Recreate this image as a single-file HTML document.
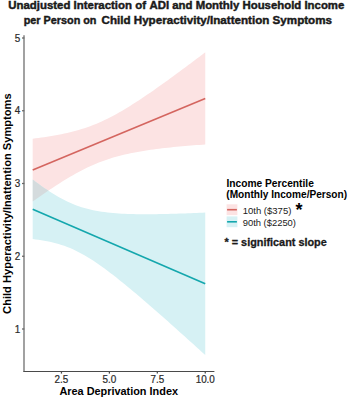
<!DOCTYPE html>
<html><head><meta charset="utf-8"><style>
html,body{margin:0;padding:0;background:#fff;width:350px;height:399px;overflow:hidden}
svg{display:block}
text{font-family:"Liberation Sans",sans-serif}
</style></head><body>
<svg width="350" height="399" viewBox="0 0 350 399">
<rect width="350" height="399" fill="#fff"/>
<text x="8.2" y="9.4" font-size="10.3" font-weight="bold" fill="#1a1a1a" stroke="#1a1a1a" stroke-width="0.4" lengthAdjust="spacingAndGlyphs" textLength="137.8">Unadjusted Interaction of</text>
<text x="149.5" y="9.4" font-size="10.3" font-weight="bold" fill="#1a1a1a" stroke="#1a1a1a" stroke-width="0.4" lengthAdjust="spacingAndGlyphs" textLength="194.8">ADI and Monthly Household Income</text>
<text x="23.7" y="24.1" font-size="10.3" font-weight="bold" fill="#1a1a1a" stroke="#1a1a1a" stroke-width="0.4" lengthAdjust="spacingAndGlyphs" textLength="72.8">per Person on</text>
<text x="101.5" y="24.1" font-size="10.3" font-weight="bold" fill="#1a1a1a" stroke="#1a1a1a" stroke-width="0.4" lengthAdjust="spacingAndGlyphs" textLength="230.5">Child Hyperactivity/Inattention Symptoms</text>
<defs><clipPath id="rc"><path d="M32.69,138.66 L35.57,138.31 L38.44,137.93 L41.32,137.55 L44.19,137.14 L47.07,136.71 L49.95,136.25 L52.82,135.78 L55.70,135.27 L58.57,134.73 L61.45,134.17 L64.33,133.56 L67.20,132.92 L70.08,132.24 L72.95,131.52 L75.83,130.75 L78.71,129.93 L81.58,129.07 L84.46,128.14 L87.33,127.16 L90.21,126.13 L93.08,125.03 L95.96,123.88 L98.84,122.66 L101.71,121.38 L104.59,120.05 L107.46,118.65 L110.34,117.20 L113.22,115.70 L116.09,114.14 L118.97,112.54 L121.84,110.88 L124.72,109.19 L127.60,107.45 L130.47,105.67 L133.35,103.86 L136.22,102.02 L139.10,100.14 L141.98,98.24 L144.85,96.31 L147.73,94.36 L150.60,92.38 L153.48,90.39 L156.36,88.37 L159.23,86.34 L162.11,84.30 L164.98,82.23 L167.86,80.16 L170.74,78.07 L173.61,75.98 L176.49,73.87 L179.36,71.75 L182.24,69.62 L185.12,67.48 L187.99,65.34 L190.87,63.19 L193.74,61.03 L196.62,58.86 L199.50,56.69 L202.37,54.52 L205.25,52.34 L205.25,144.48 L202.37,144.69 L199.50,144.90 L196.62,145.12 L193.74,145.34 L190.87,145.57 L187.99,145.81 L185.12,146.06 L182.24,146.31 L179.36,146.57 L176.49,146.84 L173.61,147.12 L170.74,147.41 L167.86,147.72 L164.98,148.03 L162.11,148.36 L159.23,148.70 L156.36,149.06 L153.48,149.44 L150.60,149.83 L147.73,150.25 L144.85,150.68 L141.98,151.14 L139.10,151.63 L136.22,152.14 L133.35,152.69 L130.47,153.27 L127.60,153.88 L124.72,154.53 L121.84,155.22 L118.97,155.96 L116.09,156.74 L113.22,157.57 L110.34,158.46 L107.46,159.40 L104.59,160.39 L101.71,161.45 L98.84,162.56 L95.96,163.73 L93.08,164.97 L90.21,166.26 L87.33,167.61 L84.46,169.02 L81.58,170.49 L78.71,172.01 L75.83,173.58 L72.95,175.20 L70.08,176.87 L67.20,178.58 L64.33,180.33 L61.45,182.11 L58.57,183.94 L55.70,185.79 L52.82,187.67 L49.95,189.58 L47.07,191.52 L44.19,193.48 L41.32,195.46 L38.44,197.46 L35.57,199.48 L32.69,201.52Z"/></clipPath></defs>
<path d="M32.69,138.66 L35.57,138.31 L38.44,137.93 L41.32,137.55 L44.19,137.14 L47.07,136.71 L49.95,136.25 L52.82,135.78 L55.70,135.27 L58.57,134.73 L61.45,134.17 L64.33,133.56 L67.20,132.92 L70.08,132.24 L72.95,131.52 L75.83,130.75 L78.71,129.93 L81.58,129.07 L84.46,128.14 L87.33,127.16 L90.21,126.13 L93.08,125.03 L95.96,123.88 L98.84,122.66 L101.71,121.38 L104.59,120.05 L107.46,118.65 L110.34,117.20 L113.22,115.70 L116.09,114.14 L118.97,112.54 L121.84,110.88 L124.72,109.19 L127.60,107.45 L130.47,105.67 L133.35,103.86 L136.22,102.02 L139.10,100.14 L141.98,98.24 L144.85,96.31 L147.73,94.36 L150.60,92.38 L153.48,90.39 L156.36,88.37 L159.23,86.34 L162.11,84.30 L164.98,82.23 L167.86,80.16 L170.74,78.07 L173.61,75.98 L176.49,73.87 L179.36,71.75 L182.24,69.62 L185.12,67.48 L187.99,65.34 L190.87,63.19 L193.74,61.03 L196.62,58.86 L199.50,56.69 L202.37,54.52 L205.25,52.34 L205.25,144.48 L202.37,144.69 L199.50,144.90 L196.62,145.12 L193.74,145.34 L190.87,145.57 L187.99,145.81 L185.12,146.06 L182.24,146.31 L179.36,146.57 L176.49,146.84 L173.61,147.12 L170.74,147.41 L167.86,147.72 L164.98,148.03 L162.11,148.36 L159.23,148.70 L156.36,149.06 L153.48,149.44 L150.60,149.83 L147.73,150.25 L144.85,150.68 L141.98,151.14 L139.10,151.63 L136.22,152.14 L133.35,152.69 L130.47,153.27 L127.60,153.88 L124.72,154.53 L121.84,155.22 L118.97,155.96 L116.09,156.74 L113.22,157.57 L110.34,158.46 L107.46,159.40 L104.59,160.39 L101.71,161.45 L98.84,162.56 L95.96,163.73 L93.08,164.97 L90.21,166.26 L87.33,167.61 L84.46,169.02 L81.58,170.49 L78.71,172.01 L75.83,173.58 L72.95,175.20 L70.08,176.87 L67.20,178.58 L64.33,180.33 L61.45,182.11 L58.57,183.94 L55.70,185.79 L52.82,187.67 L49.95,189.58 L47.07,191.52 L44.19,193.48 L41.32,195.46 L38.44,197.46 L35.57,199.48 L32.69,201.52Z" fill="rgb(252,227,227)"/>
<path d="M32.69,179.56 L35.57,181.72 L38.44,183.83 L41.32,185.90 L44.19,187.91 L47.07,189.86 L49.95,191.75 L52.82,193.57 L55.70,195.31 L58.57,196.98 L61.45,198.57 L64.33,200.07 L67.20,201.48 L70.08,202.79 L72.95,204.02 L75.83,205.15 L78.71,206.20 L81.58,207.15 L84.46,208.02 L87.33,208.81 L90.21,209.52 L93.08,210.16 L95.96,210.73 L98.84,211.24 L101.71,211.69 L104.59,212.09 L107.46,212.45 L110.34,212.76 L113.22,213.03 L116.09,213.26 L118.97,213.46 L121.84,213.64 L124.72,213.78 L127.60,213.90 L130.47,214.00 L133.35,214.08 L136.22,214.14 L139.10,214.18 L141.98,214.21 L144.85,214.22 L147.73,214.22 L150.60,214.21 L153.48,214.18 L156.36,214.15 L159.23,214.10 L162.11,214.05 L164.98,213.99 L167.86,213.93 L170.74,213.85 L173.61,213.77 L176.49,213.68 L179.36,213.59 L182.24,213.49 L185.12,213.39 L187.99,213.28 L190.87,213.17 L193.74,213.06 L196.62,212.94 L199.50,212.82 L202.37,212.69 L205.25,212.56 L205.25,355.01 L202.37,352.40 L199.50,349.79 L196.62,347.18 L193.74,344.58 L190.87,341.98 L187.99,339.39 L185.12,336.80 L182.24,334.22 L179.36,331.64 L176.49,329.06 L173.61,326.49 L170.74,323.93 L167.86,321.37 L164.98,318.82 L162.11,316.28 L159.23,313.74 L156.36,311.22 L153.48,308.70 L150.60,306.20 L147.73,303.70 L144.85,301.22 L141.98,298.75 L139.10,296.29 L136.22,293.85 L133.35,291.43 L130.47,289.02 L127.60,286.64 L124.72,284.28 L121.84,281.94 L118.97,279.63 L116.09,277.35 L113.22,275.10 L110.34,272.89 L107.46,270.72 L104.59,268.59 L101.71,266.51 L98.84,264.48 L95.96,262.50 L93.08,260.59 L90.21,258.75 L87.33,256.98 L84.46,255.28 L81.58,253.67 L78.71,252.14 L75.83,250.70 L72.95,249.35 L70.08,248.10 L67.20,246.93 L64.33,245.86 L61.45,244.88 L58.57,243.98 L55.70,243.17 L52.82,242.43 L49.95,241.77 L47.07,241.17 L44.19,240.64 L41.32,240.17 L38.44,239.75 L35.57,239.38 L32.69,239.06Z" fill="rgb(214,241,244)"/>
<path d="M32.69,179.56 L35.57,181.72 L38.44,183.83 L41.32,185.90 L44.19,187.91 L47.07,189.86 L49.95,191.75 L52.82,193.57 L55.70,195.31 L58.57,196.98 L61.45,198.57 L64.33,200.07 L67.20,201.48 L70.08,202.79 L72.95,204.02 L75.83,205.15 L78.71,206.20 L81.58,207.15 L84.46,208.02 L87.33,208.81 L90.21,209.52 L93.08,210.16 L95.96,210.73 L98.84,211.24 L101.71,211.69 L104.59,212.09 L107.46,212.45 L110.34,212.76 L113.22,213.03 L116.09,213.26 L118.97,213.46 L121.84,213.64 L124.72,213.78 L127.60,213.90 L130.47,214.00 L133.35,214.08 L136.22,214.14 L139.10,214.18 L141.98,214.21 L144.85,214.22 L147.73,214.22 L150.60,214.21 L153.48,214.18 L156.36,214.15 L159.23,214.10 L162.11,214.05 L164.98,213.99 L167.86,213.93 L170.74,213.85 L173.61,213.77 L176.49,213.68 L179.36,213.59 L182.24,213.49 L185.12,213.39 L187.99,213.28 L190.87,213.17 L193.74,213.06 L196.62,212.94 L199.50,212.82 L202.37,212.69 L205.25,212.56 L205.25,355.01 L202.37,352.40 L199.50,349.79 L196.62,347.18 L193.74,344.58 L190.87,341.98 L187.99,339.39 L185.12,336.80 L182.24,334.22 L179.36,331.64 L176.49,329.06 L173.61,326.49 L170.74,323.93 L167.86,321.37 L164.98,318.82 L162.11,316.28 L159.23,313.74 L156.36,311.22 L153.48,308.70 L150.60,306.20 L147.73,303.70 L144.85,301.22 L141.98,298.75 L139.10,296.29 L136.22,293.85 L133.35,291.43 L130.47,289.02 L127.60,286.64 L124.72,284.28 L121.84,281.94 L118.97,279.63 L116.09,277.35 L113.22,275.10 L110.34,272.89 L107.46,270.72 L104.59,268.59 L101.71,266.51 L98.84,264.48 L95.96,262.50 L93.08,260.59 L90.21,258.75 L87.33,256.98 L84.46,255.28 L81.58,253.67 L78.71,252.14 L75.83,250.70 L72.95,249.35 L70.08,248.10 L67.20,246.93 L64.33,245.86 L61.45,244.88 L58.57,243.98 L55.70,243.17 L52.82,242.43 L49.95,241.77 L47.07,241.17 L44.19,240.64 L41.32,240.17 L38.44,239.75 L35.57,239.38 L32.69,239.06Z" fill="rgb(212,219,221)" clip-path="url(#rc)"/>
<line x1="32.69" y1="170.09" x2="205.25" y2="98.41" stroke="#D4655F" stroke-width="1.6"/>
<line x1="32.69" y1="209.31" x2="205.25" y2="283.78" stroke="#14A7AD" stroke-width="1.6"/>
<g stroke="#4a4a4a" stroke-width="1.25" fill="none">
<path d="M24.0,35.3 V371.5" stroke="#7a7a7a" stroke-width="1.4"/>
<path d="M23.3,371.5 H214.4" stroke="#4a4a4a" stroke-width="1.15"/>
<line x1="22" y1="329.00" x2="24.3" y2="329.00" stroke="#666"/>
<line x1="22" y1="256.25" x2="24.3" y2="256.25" stroke="#666"/>
<line x1="22" y1="183.50" x2="24.3" y2="183.50" stroke="#666"/>
<line x1="22" y1="110.75" x2="24.3" y2="110.75" stroke="#666"/>
<line x1="22" y1="38.00" x2="24.3" y2="38.00" stroke="#666"/>
<line x1="61.45" y1="371.5" x2="61.45" y2="373.6"/>
<line x1="109.38" y1="371.5" x2="109.38" y2="373.6"/>
<line x1="157.31" y1="371.5" x2="157.31" y2="373.6"/>
<line x1="205.25" y1="371.5" x2="205.25" y2="373.6"/>
</g>
<g fill="#2a2a2a" stroke="#2a2a2a" stroke-width="0.2" font-size="9.9">
<text transform="translate(20.2,332.70) scale(1,1.08)" text-anchor="end">1</text>
<text transform="translate(20.2,259.95) scale(1,1.08)" text-anchor="end">2</text>
<text transform="translate(20.2,187.20) scale(1,1.08)" text-anchor="end">3</text>
<text transform="translate(20.2,114.45) scale(1,1.08)" text-anchor="end">4</text>
<text transform="translate(20.2,41.70) scale(1,1.08)" text-anchor="end">5</text>
<text transform="translate(61.45,382.5) scale(1,1.13)" text-anchor="middle">2.5</text>
<text transform="translate(109.38,382.5) scale(1,1.13)" text-anchor="middle">5.0</text>
<text transform="translate(157.31,382.5) scale(1,1.13)" text-anchor="middle">7.5</text>
<text transform="translate(205.25,382.5) scale(1,1.13)" text-anchor="middle">10.0</text>
</g>
<text x="118.7" y="395.0" font-size="10.3" font-weight="bold" fill="#000" text-anchor="middle" textLength="118.6" lengthAdjust="spacingAndGlyphs">Area Deprivation Index</text>
<text transform="translate(10.6,313.9) rotate(-90)" x="0" y="0" font-size="10.3" font-weight="bold" fill="#000" textLength="220.6" lengthAdjust="spacingAndGlyphs">Child Hyperactivity/Inattention Symptoms</text>
<text x="226.4" y="186.9" font-size="10.1" font-weight="bold" fill="#000" textLength="87.5" lengthAdjust="spacingAndGlyphs">Income Percentile</text>
<text x="226.3" y="198.2" font-size="10.1" font-weight="bold" fill="#000" textLength="120.8" lengthAdjust="spacingAndGlyphs">(Monthly Income/Person)</text>
<rect x="226.6" y="204.3" width="10.8" height="10.8" fill="rgb(252,227,227)"/>
<line x1="227.1" y1="209.7" x2="236.9" y2="209.7" stroke="#D4655F" stroke-width="1.6"/>
<rect x="226.6" y="216.4" width="10.8" height="10.8" fill="rgb(214,241,244)"/>
<line x1="227.1" y1="221.8" x2="236.9" y2="221.8" stroke="#14A7AD" stroke-width="1.6"/>
<text x="242.7" y="213.5" font-size="9.3" fill="#1a1a1a" textLength="48.7" lengthAdjust="spacingAndGlyphs">10th ($375)</text>
<text x="242.7" y="225.5" font-size="9.3" fill="#1a1a1a" textLength="53.3" lengthAdjust="spacingAndGlyphs">90th ($2250)</text>
<text x="295.5" y="215.7" font-size="18" font-weight="bold" fill="#000">*</text>
<text x="224.5" y="246.0" font-size="10.8" font-weight="bold" fill="#1a1a1a" stroke="#1a1a1a" stroke-width="0.3" textLength="102.3" lengthAdjust="spacingAndGlyphs">* = significant slope</text>
</svg>
</body></html>
